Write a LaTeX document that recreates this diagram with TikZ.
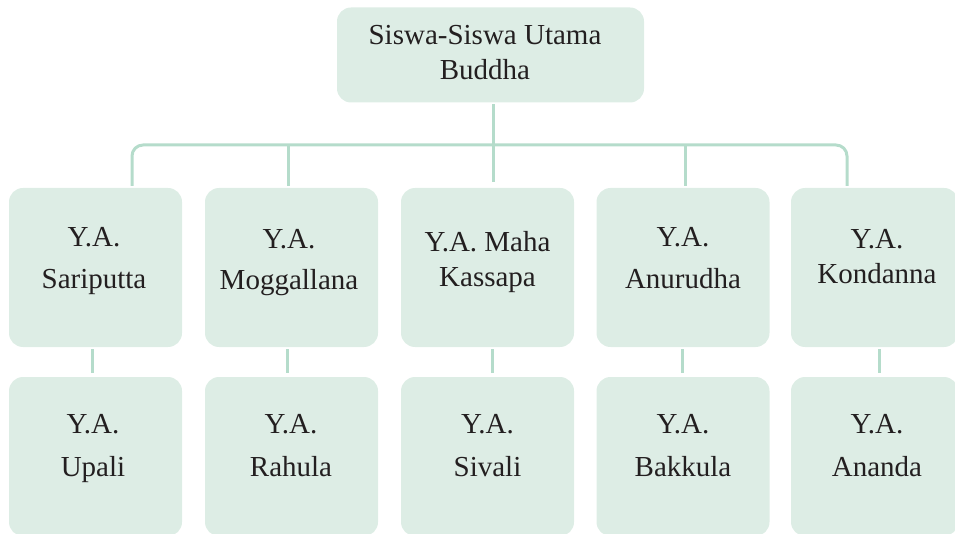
\documentclass[tikz,border=0pt]{standalone}
\usepackage{fontspec}
\setmainfont{Liberation Serif}
\definecolor{boxfill}{HTML}{DDEDE5}
\definecolor{linkcol}{HTML}{B5DCCB}
\definecolor{ink}{HTML}{231F20}
\begin{document}
\begin{tikzpicture}[x=1pt,y=-1pt,
  card/.style={fill=boxfill, rounded corners=14pt, minimum width=173pt,
               minimum height=159pt, inner sep=0pt, outer sep=0pt},
  edgecard/.style={card, minimum width=167pt},
  headcard/.style={card, minimum width=307pt, minimum height=95pt},
  cardtext/.style={anchor=north, inner sep=0pt, align=center, text=ink,
               font=\fontsize{29}{#1}\selectfont},
  cardtext/.default=42,
  link/.style={draw=linkcol, line width=3pt}]
\useasboundingbox (0,0) rectangle (955,534);
\clip (0,0) rectangle (955,534);

% head box
\node[headcard] (head) at (490.5,55) {};
\node[cardtext=35] (headtxt) at (485,25) {Siswa-Siswa Utama\\Buddha};

% first row of disciples
\node[card] (a1) at (95.5,267.5) {};
\node[card] (a2) at (291.5,267.5) {};
\node[card] (a3) at (487.5,267.5) {};
\node[card] (a4) at (683,267.5) {};
\node[edgecard] (a5) at (874.5,267.5) {};

% second row of disciples
\node[card] (b1) at (95.5,456.5) {};
\node[card] (b2) at (291.5,456.5) {};
\node[card] (b3) at (487.5,456.5) {};
\node[card] (b4) at (683,456.5) {};
\node[edgecard] (b5) at (874.5,456.5) {};

% names, first row
\node[cardtext=42] (ta1) at (94,227) {Y.A.\\Sariputta};
\node[cardtext=41] (ta2) at (289,229) {Y.A.\\Moggallana};
\node[cardtext=35] (ta3) at (487.5,231) {Y.A. Maha\\Kassapa};
\node[cardtext=42] (ta4) at (683,227) {Y.A.\\Anurudha};
\node[cardtext=35] (ta5) at (877,229) {Y.A.\\Kondanna};

% names, second row
\node[cardtext=43] (tb1) at (93,414) {Y.A.\\Upali};
\node[cardtext=43] (tb2) at (291,414) {Y.A.\\Rahula};
\node[cardtext=43] (tb3) at (487.5,414) {Y.A.\\Sivali};
\node[cardtext=43] (tb4) at (683,414) {Y.A.\\Bakkula};
\node[cardtext=43] (tb5) at (877,414) {Y.A.\\Ananda};

% drop points on the horizontal bus
\coordinate (d1) at (132,145);
\coordinate (d2) at (288,145);
\coordinate (d3) at (493.5,145);
\coordinate (d4) at (685,145);
\coordinate (d5) at (847,145);

% bus with rounded ends
\draw[link, rounded corners=11pt, shorten <=2pt, shorten >=2pt]
  (a1.north -| d1) -- (d1) -- (d5) -- (a5.north -| d5);
\draw[link, shorten <=2pt, shorten >=6pt] (head.south -| d3) -- (a3.north -| d3);
\draw[link, shorten >=2pt] (d2) -- (a2.north -| d2);
\draw[link, shorten >=2pt] (d4) -- (a4.north -| d4);

% links between the rows
\coordinate (e1) at (92,360);
\coordinate (e2) at (287.5,360);
\coordinate (e3) at (492,360);
\coordinate (e4) at (682.5,360);
\coordinate (e5) at (879,360);
\foreach \i in {1,...,5}
  \draw[link, shorten <=2pt, shorten >=4pt] (a\i.south -| e\i) -- (b\i.north -| e\i);
\end{tikzpicture}
\end{document}
